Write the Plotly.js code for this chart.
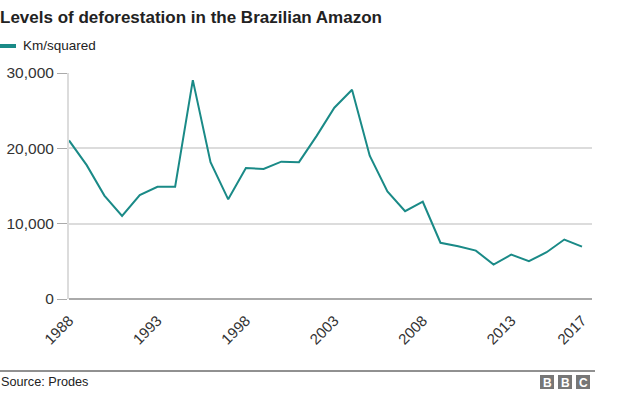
<!DOCTYPE html>
<html>
<head>
<meta charset="utf-8">
<script src="https://cdn.plot.ly/plotly-3.0.1.min.js"></script>
<style>html,body{margin:0;padding:0;background:#fff;}#chart{width:624px;height:395px;}</style>
</head>
<body>
<div id="chart"></div>
<script>
var years = [1988,1989,1990,1991,1992,1993,1994,1995,1996,1997,1998,1999,2000,2001,2002,2003,2004,2005,2006,2007,2008,2009,2010,2011,2012,2013,2014,2015,2016,2017];
var deforestation = [21050,17770,13730,11030,13786,14896,14896,29059,18161,13227,17383,17259,18226,18165,21651,25396,27772,19014,14286,11651,12911,7464,7000,6418,4571,5891,5012,6207,7893,6947];
var xTickVals = [1988,1993,1998,2003,2008,2013,2017];
var xTickText = ['1988','1993','1998','2003','2008','2013','2017'];
var yTickVals = [0,10000,20000,30000];
var seriesName = 'Km/squared';
var titleText = 'Levels of deforestation in the Brazilian Amazon';
var sourceText = 'Source: Prodes';

var W = 624, H = 395;
var L = 69, R = 592, T = 73, B = 299;
function px(x){ return (x - L) / (R - L); }
function py(y){ return (B - y) / (B - T); }

var teal = '#1a8a87';
var font = 'Arial, "Liberation Sans", Helvetica, sans-serif';

var trace = {
  x: years, y: deforestation, type: 'scatter', mode: 'lines',
  line: {color: teal, width: 2}, name: seriesName, showlegend: false,
  hoverinfo: 'skip'
};

var shapes = [
  {type:'line', xref:'paper', yref:'paper', x0:px(0), x1:px(16), y0:py(46), y1:py(46), line:{color:teal, width:4}},
  {type:'line', xref:'paper', yref:'paper', x0:px(0), x1:px(595), y0:py(371), y1:py(371), line:{color:'#222', width:1}}
];
var bbcX = [540, 558, 576];
var annotations = [
  {xref:'paper', yref:'paper', x:px(21), y:py(46), xanchor:'left', yanchor:'middle', text:seriesName, showarrow:false, font:{family:font, size:13.5, color:'#222'}},
  {xref:'paper', yref:'paper', x:px(-1), y:py(382), xanchor:'left', yanchor:'middle', text:sourceText, showarrow:false, font:{family:font, size:12.7, color:'#222'}}
];
['B','B','C'].forEach(function(ch, i){
  shapes.push({type:'rect', xref:'paper', yref:'paper', x0:px(bbcX[i]), x1:px(bbcX[i]+14), y0:py(375), y1:py(389), fillcolor:'#777', line:{width:0}});
  annotations.push({xref:'paper', yref:'paper', x:px(bbcX[i]+7), y:py(382.5), xanchor:'center', yanchor:'middle', text:'<b>'+ch+'</b>', showarrow:false, font:{family:font, size:12, color:'#fff'}});
});

var layout = {
  width: W, height: H,
  margin: {l: L, r: W - R, t: T, b: H - B, pad: 0},
  paper_bgcolor: '#fff', plot_bgcolor: '#fff',
  separators: '.,',
  title: {text: '<b>' + titleText + '</b>', xref:'container', yref:'container', x: 0, xanchor:'left', y: 1 - 17/H, yanchor:'middle', pad:{l:0,t:0,b:0,r:0}, font:{family:font, size:17, color:'#222'}},
  xaxis: {
    range: [1988, 1988 + (R - L) / ((582 - 69) / 29)],
    tickvals: xTickVals, ticktext: xTickText, tickangle: -45,
    showgrid: false, zeroline: false, showline: false, ticks: '',
    ticklabelstandoff: 9,
    tickfont: {family: font, size: 15, color: '#333'}, fixedrange: true
  },
  yaxis: {
    range: [0, 30000], tickvals: yTickVals, tickformat: ',d',
    showgrid: true, gridcolor: '#dcdcdc', gridwidth: 2,
    zeroline: true, zerolinecolor: '#aaa', zerolinewidth: 1.5,
    showline: true, linecolor: '#dcdcdc', linewidth: 2,
    ticks: 'outside', ticklen: 10, tickcolor: '#aaa', tickwidth: 1,
    tickfont: {family: font, size: 15.5, color: '#333'}, fixedrange: true
  },
  shapes: shapes, annotations: annotations, showlegend: false
};

Plotly.newPlot('chart', [trace], layout, {displayModeBar: false, staticPlot: true});
</script>
</body>
</html>
